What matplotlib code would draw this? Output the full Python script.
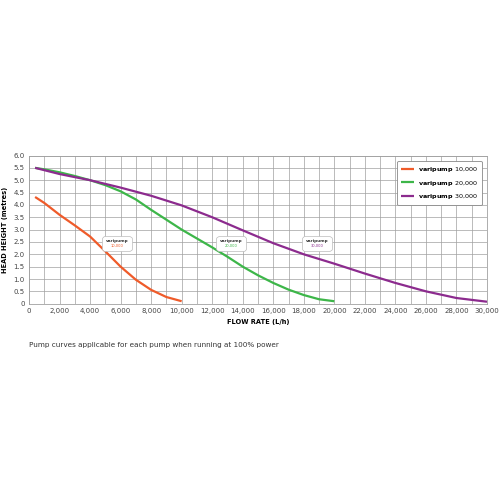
import matplotlib
matplotlib.use("Agg")
import matplotlib.pyplot as plt
from matplotlib.offsetbox import TextArea, VPacker, AnnotationBbox

# pump curves (flow L/h, head m)
flow_10k = [400, 1000, 2000, 3000, 4000, 5000, 6000, 7000, 8000, 9000, 10000]
head_10k = [4.32, 4.08, 3.6, 3.17, 2.72, 2.12, 1.5, 0.97, 0.56, 0.27, 0.1]

flow_20k = [400, 1000, 2000, 3000, 4000, 5000, 6000, 7000, 8000, 9000, 10000,
            11000, 12000, 13000, 14000, 15000, 16000, 17000, 18000, 19000, 20000]
head_20k = [5.5, 5.44, 5.32, 5.17, 5.0, 4.8, 4.55, 4.22, 3.8, 3.4, 3.0,
            2.64, 2.28, 1.9, 1.5, 1.15, 0.84, 0.57, 0.35, 0.18, 0.1]

flow_30k = [400, 2000, 4000, 6000, 8000, 10000, 12000, 14000, 16000, 18000,
            20000, 22000, 24000, 26000, 28000, 30000]
head_30k = [5.5, 5.25, 5.0, 4.7, 4.37, 3.98, 3.5, 2.97, 2.45, 2.0,
            1.62, 1.22, 0.84, 0.5, 0.23, 0.08]

names = ["10,000", "20,000", "30,000"]
colors = ["#ef5b2a", "#3db649", "#8c2b8e"]
tag_x = [5750, 13250, 18850]
tag_y = [2.44, 2.44, 2.44]

x_ticks = list(range(0, 30001, 2000))
y_ticks = [i * 0.5 for i in range(13)]

fig = plt.figure(figsize=(5, 5), dpi=100)
ax = fig.add_axes([0.058, 0.3926, 0.916, 0.2964])

series = [(flow_10k, head_10k), (flow_20k, head_20k), (flow_30k, head_30k)]
for (fx, hy), c, n in zip(series, colors, names):
    ax.plot(fx, hy, color=c, lw=1.6, solid_capstyle="butt",
            label=r"$\mathbf{varipump}$ " + n, zorder=3)

#little tags on each curve
for tx, ty, c, n in zip(tag_x, tag_y, colors, names):
    box = VPacker(children=[TextArea("varipump", textprops=dict(size=3.0, color="#333333", weight="bold")),
                            TextArea(n, textprops=dict(size=2.6, color=c))],
                  align="center", pad=0, sep=0.6)
    ab = AnnotationBbox(box, (tx, ty), frameon=True, pad=0.1,
                        bboxprops=dict(boxstyle="round,pad=0.25", fc="white", ec="#bbbbbb", lw=0.5))
    ax.add_artist(ab)

ax.set_xlim(0, 30000)
ax.set_ylim(0, 6.0)
ax.set_xticks(x_ticks)
ax.set_xticklabels(["0"] + ["{:,}".format(v) for v in x_ticks[1:]])
ax.set_xticks(range(1000, 30000, 2000), minor=True)
ax.set_yticks(y_ticks)
ax.set_yticklabels(["0"] + ["%.1f" % v for v in y_ticks[1:]])
ax.tick_params(labelsize=5, length=0, pad=3, colors="#444444")
ax.tick_params(which="minor", length=0)
ax.grid(True, which="both", color="#a0a0a0", lw=0.5)
ax.set_axisbelow(True)
for s in ax.spines.values():
    s.set_color("#a0a0a0")
    s.set_linewidth(0.6)

ax.set_xlabel("FLOW RATE (L/h)", fontsize=4.8, weight="bold", labelpad=4)
ax.set_ylabel("HEAD HEIGHT (metres)", fontsize=4.8, weight="bold", labelpad=4)

leg = ax.legend(loc="upper right", fontsize=4.6, frameon=True, fancybox=True,
                handlelength=2.0, handletextpad=0.6, borderpad=0.6, labelspacing=0.75,
                bbox_to_anchor=(0.995, 0.985))
leg.get_frame().set_edgecolor("#888888")
leg.get_frame().set_linewidth(0.6)
leg.get_frame().set_alpha(1)

fig.text(0.058, 0.31, "Pump curves applicable for each pump when running at 100% power",
         fontsize=5.2, color="#333333", va="center")

fig.savefig("out.png", dpi=100)
